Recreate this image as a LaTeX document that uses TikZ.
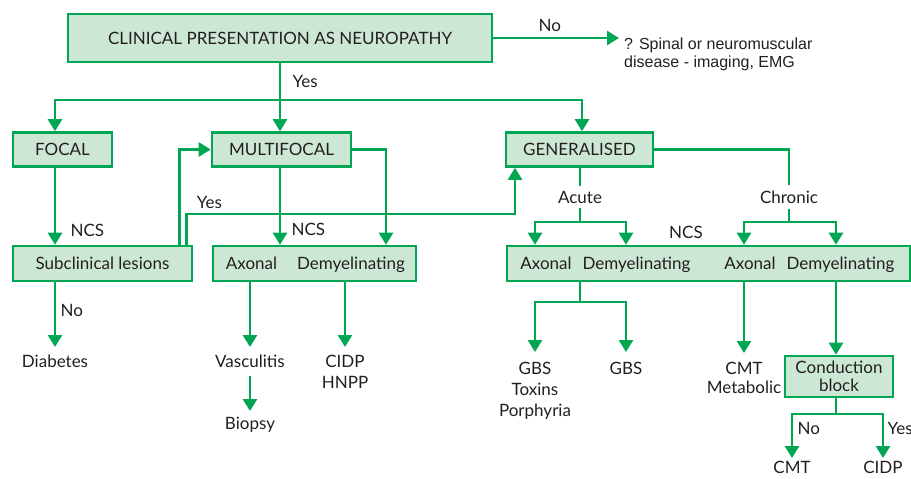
\documentclass[tikz,border=0pt]{standalone}
\usepackage{fontspec}
\setmainfont{Lato}
\newfontfamily\arialsans{Liberation Sans}
\usetikzlibrary{arrows.meta,positioning}
\definecolor{nhsgreen}{HTML}{00A651}
\definecolor{boxfill}{HTML}{CDE7D5}
\definecolor{ink}{HTML}{231F20}

\begin{document}
\begin{tikzpicture}[x=1pt,y=-1pt,font=\fontsize{17}{21}\selectfont,
    every node/.style={text=ink},
    box/.style={rectangle,draw=nhsgreen,fill=boxfill,line width=2.6pt,inner sep=0pt},
    link/.style={draw=nhsgreen,line width=2.6pt},
    arrow/.style={link,-{Triangle[width=14pt,length=12pt]}},
    term/.style={align=center,inner sep=8pt,anchor=north}]
  \useasboundingbox (0,0) rectangle (911,479);

  % boxes
  \node (clin) at (280,38) [box,minimum width=424pt,minimum height=48pt] {CLINICAL PRESENTATION AS NEUROPATHY};
  \node (spinal) at (619,54) [anchor=west,align=left,inner sep=5pt,font=\arialsans\fontsize{16}{18}\selectfont] {? Spinal or neuromuscular\\disease - imaging, EMG};
  \node (focal) at (62.5,149.5) [box,minimum width=99pt,minimum height=34pt] {FOCAL};
  \node (multi) at (281.5,149.5) [box,minimum width=139pt,minimum height=34pt] {MULTIFOCAL};
  \node (gen) at (579.5,149.5) [box,minimum width=147pt,minimum height=34pt] {GENERALISED};
  \node (subcl) at (102.5,263.5) [box,minimum width=179pt,minimum height=35pt] {Subclinical lesions};
  \node (ncsA) at (314.5,263.5) [box,minimum width=203pt,minimum height=35pt] {};
  \node (ncsB) at (708.5,263.5) [box,minimum width=403pt,minimum height=35pt] {};
  \node (cblock) at (839,376.5) [box,minimum width=108pt,minimum height=41pt,align=center,font=\fontsize{17}{18}\selectfont] {Conduction\\block};

  % labels inside the NCS boxes
  \node (axA) at (251.5,269) [anchor=base] {Axonal};
  \node (demA) at (351,269) [anchor=base] {Demyelinating};
  \node (axB) at (546,269) [anchor=base] {Axonal};
  \node (demB) at (636.5,269) [anchor=base] {Demyelinating};
  \node (axC) at (750,269) [anchor=base] {Axonal};
  \node (demC) at (840.5,269) [anchor=base] {Demyelinating};

  % branch points
  \coordinate (yes) at (280,100);
  \coordinate (toGen) at (515,214);
  \coordinate (acute) at (580,222);
  \coordinate (chronic) at (789,222);
  \coordinate (acuteOut) at (580,302);
  \coordinate (cbOut) at (836,414);

  % texts
  \node (acuteL) at (580,197) [inner sep=5pt] {Acute};
  \node (chronL) at (789,197) [inner sep=5pt] {Chronic};
  \node (ncsC) at (686,232) {NCS};
  \node (diab) at (55,347) [term] {Diabetes};
  \node (vasc) at (250,347) [term] {Vasculitis};
  \node (biop) at (250,411) [term,inner sep=6pt] {Biopsy};
  \node (cidpA) at (345,347) [term] {CIDP\\HNPP};
  \node (gbsA) at (535,352) [term,inner sep=10pt] {GBS\\Toxins\\Porphyria};
  \node (gbsB) at (626,352) [term,inner sep=10pt] {GBS};
  \node (cmtA) at (744,353) [term,inner sep=9pt,font=\fontsize{17}{19}\selectfont] {CMT\\Metabolic};
  \node (cmtB) at (792,458) [term,inner sep=3pt] {CMT};
  \node (cidpB) at (883,458) [term,inner sep=3pt] {CIDP};

  % connectors
  \draw [arrow] (clin.east) -- (spinal.west |- clin.east) node [pos=0.45,above=2pt] {No};
  \draw [link] (clin.south) -- (yes) node [midway,right=8pt] {Yes};
  \draw [arrow] (yes) -| ([xshift=-7.5pt]focal.north);
  \draw [arrow] (yes) -- (yes |- multi.north);
  \draw [arrow] (yes) -| ([xshift=2.5pt]gen.north);

  \draw [arrow] ([xshift=-7.5pt]focal.south) -- ([xshift=-7.5pt]focal.south |- subcl.north) node [pos=0.82,right=11pt] {NCS};
  \draw [arrow] (diab.north |- subcl.south) -- (diab.north) node [pos=0.44,right=1pt] {No};
  \draw [arrow] ([xshift=-14pt]subcl.north east) |- (multi.west);
  \draw [arrow] ([xshift=-7pt]subcl.north east) |- (toGen) node [pos=0.535,above=1pt] {Yes} -- (toGen |- gen.south);

  \draw [arrow] (yes |- multi.south) -- (yes |- ncsA.north) node [pos=0.8,right=7pt] {NCS};
  \draw [arrow] (multi.east) -| ([xshift=71.5pt]ncsA.north);
  \draw [arrow] (vasc.north |- ncsA.south) -- (vasc.north);
  \draw [arrow] (vasc.south) -- (biop.north);
  \draw [arrow] (cidpA.north |- ncsA.south) -- (cidpA.north);

  \draw [link] (acuteL.north |- gen.south) -- (acuteL.north);
  \draw [link] (acuteL.south) -- (acute);
  \draw [arrow] (acute) -| (gbsA |- ncsB.north);
  \draw [arrow] (acute) -| (gbsB |- ncsB.north);
  \draw [link] (gen.east) -| (chronL.north);
  \draw [link] (chronL.south) -- (chronic);
  \draw [arrow] (chronic) -| (cmtA |- ncsB.north);
  \draw [arrow] (chronic) -| (cbOut |- ncsB.north);

  \draw [link] (acute |- ncsB.south) -- (acuteOut);
  \draw [arrow] (acuteOut) -| (gbsA.north);
  \draw [arrow] (acuteOut) -| (gbsB.north);
  \draw [arrow] (cmtA |- ncsB.south) -- (cmtA.north);
  \draw [arrow] (cbOut |- ncsB.south) -- (cbOut |- cblock.north);
  \draw [link] (cbOut |- cblock.south) -- (cbOut);
  \draw [arrow] (cbOut) -| (cmtB.north) node [pos=0.667,right=1pt] {No};
  \draw [arrow] (cbOut) -| (cidpB.north) node [pos=0.667,right=0pt] {Yes};
\end{tikzpicture}
\end{document}
